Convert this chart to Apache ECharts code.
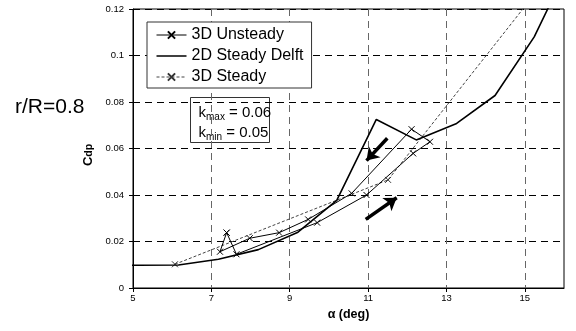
<!DOCTYPE html>
<html><head><meta charset="utf-8">
<script src="https://cdn.jsdelivr.net/npm/echarts@6/dist/echarts.min.js"></script>
<style>html,body{margin:0;padding:0;background:#fff}#c{width:576px;height:331px}</style>
</head><body><div id="c"></div>
<script>
// ---- data ----
const xTickValues = [5, 7, 9, 11, 13, 15];
// 3D Unsteady hysteresis loop, in time order
const unsteady3D = [[7.39,0.0238],[7.64,0.0145],[9.70,0.0281],[10.96,0.0400],[12.15,0.0579],[12.58,0.0629],[12.11,0.0683],[10.58,0.0407],[9.47,0.0295],[8.73,0.0238],[7.98,0.0214],[7.22,0.0156],[7.39,0.0238]];
// 2D Steady Delft
const steady2D = [[4.1,0.0098],[5.13,0.0098],[6.16,0.0099],[7.18,0.0124],[8.2,0.0165],[9.21,0.0240],[10.2,0.0377],[11.21,0.0725],[12.23,0.0637],[13.26,0.0708],[14.24,0.0828],[15.24,0.108],[16.2,0.1415]];
// 3D Steady
const steady3D = [[6.07,0.0102],[11.51,0.0465],[15.1,0.1232]];
// direction arrows (data coordinates)
const arrowDown = [[11.49,0.0644],[10.96,0.0548]];
const arrowUp = [[10.94,0.0295],[11.73,0.0388]];
const seriesNames = ['3D Unsteady', '2D Steady Delft', '3D Steady'];

const FONT = 'Liberation Sans, Arial, Helvetica, sans-serif';
const CROSS = 'path://M0,0L10,10M10,0L0,10';
const LINE_ICON = 'path://M0,0L30,0L30,1.5L0,1.5Z';

const chart = echarts.init(document.getElementById('c'), null, {renderer: 'canvas'});
chart.setOption({
  animation: false,
  textStyle: {fontFamily: FONT},
  grid: {left: 133, right: 12, top: 9, bottom: 43, show: true, borderColor: '#000', borderWidth: 1, backgroundColor: 'transparent'},
  xAxis: {
    type: 'value', min: 5, max: 16,
    axisLine: {show: true, onZero: false, lineStyle: {color: '#000', width: 1}},
    axisTick: {show: true, length: 4, customValues: xTickValues, lineStyle: {color: '#000'}},
    axisLabel: {customValues: xTickValues, fontSize: 9.5, color: '#000', margin: 5, fontFamily: FONT},
    splitLine: {show: true, lineStyle: {color: '#666', type: [7, 5], width: 1}},
    name: 'α (deg)', nameLocation: 'middle', nameGap: 20,
    nameTextStyle: {fontSize: 12.5, fontWeight: 'bold', color: '#000', fontFamily: FONT}
  },
  yAxis: {
    type: 'value', min: 0, max: 0.12, interval: 0.02,
    axisLine: {show: true, lineStyle: {color: '#000', width: 1}},
    axisTick: {show: true, length: 4, lineStyle: {color: '#000'}},
    axisLabel: {fontSize: 9.5, color: '#000', margin: 9, fontFamily: FONT},
    splitLine: {show: true, lineStyle: {color: '#000', type: [7, 5], width: 1}},
    name: '{c|C}{s|dp}', nameLocation: 'middle', nameGap: 26,
    nameTextStyle: {color: '#000', padding: [0, 13, 0, 0], rich: {
      c: {fontSize: 13, fontWeight: 'bold', fontFamily: FONT, color: '#000'},
      s: {fontSize: 10.5, fontWeight: 'bold', fontFamily: FONT, color: '#000', verticalAlign: 'bottom'}
    }}
  },
  legend: {
    orient: 'vertical', left: 147, top: 22,
    data: [
      {name: seriesNames[0]},
      {name: seriesNames[1], icon: LINE_ICON},
      {name: seriesNames[2]}
    ],
    padding: [5, 8, 3, 9], itemGap: 5, itemWidth: 30, itemHeight: 9,
    symbolKeepAspect: true,
    lineStyle: {width: 1},
    backgroundColor: '#fff', borderColor: '#333', borderWidth: 1,
    textStyle: {fontSize: 16, color: '#000', fontFamily: FONT}
  },
  graphic: [
    {type: 'text', left: 15, top: 97, style: {text: 'r/R=0.8', fontSize: 21, fill: '#000', fontFamily: FONT}},
    {type: 'group', left: 190, top: 97, children: [
      {type: 'rect', shape: {x: 0, y: 0, width: 79, height: 45}, style: {fill: '#fff', stroke: '#333', lineWidth: 1}},
      {type: 'text', x: 8, y: 5, style: {
        text: '{k|k}{s|max}{n| = 0.06}\n{k|k}{s|min}{n| = 0.05}',
        rich: {
          k: {fontSize: 15, fontFamily: FONT, fill: '#000', lineHeight: 20},
          s: {fontSize: 10, fontFamily: FONT, fill: '#000', lineHeight: 20, verticalAlign: 'bottom'},
          n: {fontSize: 15, fontFamily: FONT, fill: '#000', lineHeight: 20}
        }
      }}
    ]}
  ],
  series: [
    {
      name: seriesNames[0], type: 'line', data: unsteady3D,
      symbol: CROSS, symbolSize: 6, showAllSymbol: true,
      lineStyle: {color: '#000', width: 1},
      itemStyle: {color: '#000', borderColor: '#000', borderWidth: 1},
      z: 4,
      markLine: {
        silent: true, symbol: ['none', 'arrow'], symbolSize: 12,
        label: {show: false},
        lineStyle: {color: '#000', width: 3.5, type: 'solid'},
        data: [
          [{coord: arrowDown[0]}, {coord: arrowDown[1]}],
          [{coord: arrowUp[0]}, {coord: arrowUp[1]}]
        ]
      }
    },
    {
      name: seriesNames[1], type: 'line', data: steady2D,
      symbol: 'none', lineStyle: {color: '#000', width: 1.6},
      itemStyle: {color: '#000'}, z: 3
    },
    {
      name: seriesNames[2], type: 'line', data: steady3D,
      symbol: CROSS, symbolSize: 6, showAllSymbol: true,
      lineStyle: {color: '#444', width: 1, type: [3, 2]},
      itemStyle: {color: '#333', borderColor: '#333', borderWidth: 1},
      z: 2
    }
  ]
});
</script></body></html>
